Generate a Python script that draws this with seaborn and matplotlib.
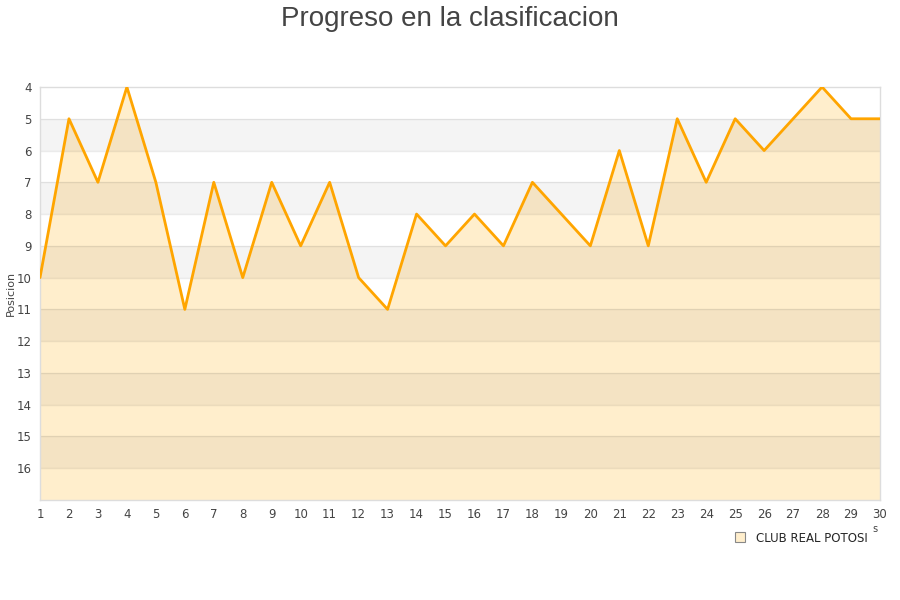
import numpy as np
import pandas as pd
import matplotlib
matplotlib.use("Agg")
import matplotlib.pyplot as plt
import seaborn as sns
from matplotlib.lines import Line2D

sns.set_theme(style="white")
plt.rcParams['font.family'] = ['DejaVu Sans']

# datos de la clasificacion por jornada
jornadas = list(range(1, 31))
posiciones = [10, 5, 7, 4, 7, 11, 7, 10, 7, 9, 7, 10, 11, 8, 9, 8, 9, 7, 8, 9,
              6, 9, 5, 7, 5, 6, 5, 4, 5, 5]
equipo = "CLUB REAL POTOSI"
titulo = "Progreso en la clasificacion"
y_ticks = list(range(4, 17))

df = pd.DataFrame({"Jornada": jornadas, "Posicion": posiciones})

fig = plt.figure(figsize=(9, 6), dpi=100)
ax = fig.add_axes([40 / 900, 1 - 500 / 600, 840 / 900, 413 / 600])

# relleno bajo la linea
ax.fill_between(df["Jornada"], df["Posicion"], 17, color="#ffeecc",
                zorder=1, lw=0)

# bandas alternas (encima del relleno, semitransparentes)
for y0 in range(5, 17, 2):
    ax.axhspan(y0, y0 + 1, color="black", alpha=0.045, zorder=2, lw=0)
for y in y_ticks[1:]:
    ax.axhline(y, color="black", alpha=0.08, lw=1, zorder=2)

sns.lineplot(data=df, x="Jornada", y="Posicion", ax=ax, color="#ffa500",
             lw=2, zorder=3)

ax.set_xlim(1, 30)
ax.set_ylim(17, 4)
ax.set_xticks(jornadas)
ax.set_yticks(y_ticks)
ax.tick_params(axis="both", labelsize=8.5, colors="#444444", length=0, pad=6)
for s in ax.spines.values():
    s.set_color("#dddddd")
    s.set_linewidth(1)
ax.set_xlabel("")
ax.set_ylabel("Posicion", fontsize=8, color="#444444", labelpad=6)
ax.yaxis.set_label_coords(-0.029, 0.50)

fig.text(0.5, 0.99, titulo, ha="center", va="top", fontsize=20, color="#444444",
         family=["Liberation Sans", "DejaVu Sans"])
fig.text(875 / 900, 1 - 532 / 600, "s", fontsize=7, color="#444444", ha="center")

handle = Line2D([], [], marker="s", ls="", markersize=7, markerfacecolor="#ffeecc",
                markeredgecolor="#888888", markeredgewidth=0.8)
fig.legend([handle], [equipo], loc="center", bbox_to_anchor=(798 / 900, 1 - 538 / 600),
           frameon=False, fontsize=8.5, handletextpad=0.3, borderaxespad=0)

fig.savefig("out.png", dpi=100)
